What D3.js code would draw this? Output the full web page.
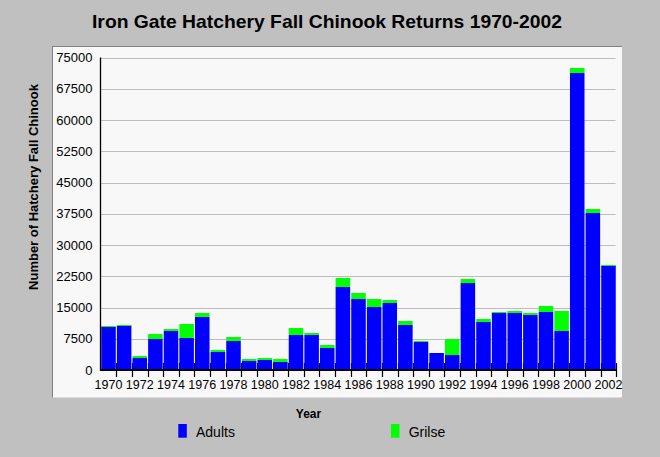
<!DOCTYPE html>
<html>
<head>
<meta charset="utf-8">
<script src="https://cdn.jsdelivr.net/npm/d3@7"></script>
<style>
  html, body { margin: 0; padding: 0; background: #c0c0c0; }
  svg { display: block; }
  text { font-family: "Liberation Sans", Arial, sans-serif; }
</style>
</head>
<body>
<script>
const years = [1970,1971,1972,1973,1974,1975,1976,1977,1978,1979,1980,1981,1982,1983,1984,1985,1986,1987,1988,1989,1990,1991,1992,1993,1994,1995,1996,1997,1998,1999,2000,2001,2002];
const adults = [10320,10560,2880,7440,9360,7680,12720,4320,6960,2160,2400,1920,8400,8400,5280,19920,17040,15120,16080,10800,6720,4080,3600,20880,11520,13680,13680,13200,13920,9360,71280,37680,24960];
const grilse = [240,240,480,1200,480,3360,960,480,960,480,480,720,1680,480,720,2160,1440,1920,720,960,240,0,3840,960,720,240,480,480,1440,4800,1200,960,240];
const yTicks = [0,7500,15000,22500,30000,37500,45000,52500,60000,67500,75000];
const seriesNames = ["Adults","Grilse"];
const seriesColors = ["#0000ff","#00ff00"];
const titleText = "Iron Gate Hatchery Fall Chinook Returns 1970-2002";
const xTitle = "Year";
const yTitle = "Number of Hatchery Fall Chinook";

const W = 660, H = 457;
const svg = d3.select("body").append("svg").attr("width", W).attr("height", H);

svg.append("rect").attr("width", W).attr("height", H).attr("fill", "#c0c0c0");

// panel
svg.append("rect").attr("x", 52).attr("y", 46.5).attr("width", 570).attr("height", 351).attr("fill", "#f8f8f8");
svg.append("line").attr("x1", 52.5).attr("x2", 52.5).attr("y1", 46).attr("y2", 397.5).attr("stroke", "#808080");
svg.append("line").attr("x1", 52).attr("x2", 622).attr("y1", 46.5).attr("y2", 46.5).attr("stroke", "#808080");

const x0 = 100.7, x1 = 616.3, yTop = 57.5, yBot = 370;
const x = d3.scaleBand().domain(years).range([x0, x1]).paddingInner(0.07).paddingOuter(0.035);
const y = d3.scaleLinear().domain([0, 75000]).range([yBot, yTop]);

// gridlines
svg.append("g").selectAll("line").data(yTicks.filter(d => d > 0)).join("line")
  .attr("x1", x0).attr("x2", 615.7)
  .attr("y1", d => Math.round(y(d)) + 0.5).attr("y2", d => Math.round(y(d)) + 0.5)
  .attr("stroke", "#bdbdbd");

// y labels
svg.append("g").selectAll("text").data(yTicks).join("text")
  .attr("x", 92.5).attr("y", d => y(d)).attr("dy", "0.36em")
  .attr("text-anchor", "end").attr("font-size", 13).attr("fill", "#000")
  .text(d => d);

// stacked bars
const data = years.map((yr, i) => ({year: yr, Adults: adults[i], Grilse: grilse[i]}));
const stack = d3.stack().keys(seriesNames)(data);
const color = d3.scaleOrdinal().domain(seriesNames).range(seriesColors);

// x ticks (band boundaries, drawn under bars)
const bounds = d3.range(1, years.length + 1).map(i => x0 + i * (x1 - x0) / years.length);
svg.append("g").selectAll("line").data(bounds).join("line")
  .attr("x1", d => Math.round(d) + 0.5).attr("x2", d => Math.round(d) + 0.5)
  .attr("y1", 363).attr("y2", 377).attr("stroke", "#000").attr("stroke-width", 1.2);

svg.append("g").selectAll("g").data(stack).join("g")
  .attr("fill", d => color(d.key))
  .selectAll("rect").data(d => d).join("rect")
  .attr("x", d => x(d.data.year))
  .attr("width", x.bandwidth())
  .attr("y", d => y(d[1]))
  .attr("height", d => Math.max(0, y(d[0]) - y(d[1])));

// axes lines
svg.append("line").attr("x1", 100.5).attr("x2", 100.5).attr("y1", yTop).attr("y2", yBot + 1).attr("stroke", "#000").attr("stroke-width", 1.3);
svg.append("line").attr("x1", 100).attr("x2", 617).attr("y1", yBot).attr("y2", yBot).attr("stroke", "#000").attr("stroke-width", 2);

// x labels (even years)
svg.append("g").selectAll("text").data(years.filter(yr => yr % 2 === 0)).join("text")
  .attr("x", d => x(d) + x.bandwidth() / 2).attr("y", 388.5)
  .attr("text-anchor", "middle").attr("font-size", 12.5).attr("fill", "#000")
  .text(d => d);

// title
svg.append("text").attr("x", 327).attr("y", 28).attr("text-anchor", "middle")
  .attr("font-size", 19).attr("font-weight", "bold").attr("fill", "#000")
  .attr("textLength", 470).attr("lengthAdjust", "spacingAndGlyphs").text(titleText);

// axis titles
svg.append("text").attr("x", 308.5).attr("y", 418).attr("text-anchor", "middle")
  .attr("font-size", 12).attr("font-weight", "bold").attr("fill", "#000").text(xTitle);
svg.append("text").attr("transform", "translate(37.5,187) rotate(-90)").attr("text-anchor", "middle")
  .attr("font-size", 13).attr("font-weight", "bold").attr("fill", "#000").text(yTitle);

// legend
const legendX = [178.3, 391];
const lg = svg.append("g").selectAll("g").data(seriesNames).join("g")
  .attr("transform", (d, i) => `translate(${legendX[i]},424)`);
lg.append("rect").attr("width", 8.5).attr("height", 13.7).attr("fill", d => color(d));
lg.append("text").attr("x", 17.7).attr("y", 13.2).attr("font-size", 14).attr("fill", "#000").text(d => d);
</script>
</body>
</html>
